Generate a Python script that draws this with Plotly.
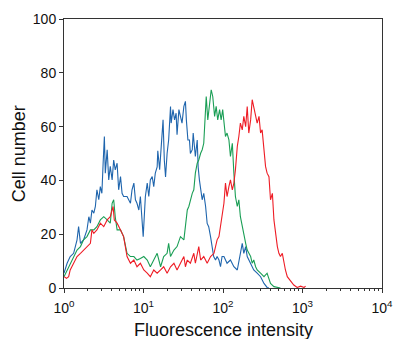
import plotly.graph_objects as go

# Histogram data: log-amplifier channel (256 channels per decade) and cell counts
blue_ch = [0, 10, 20, 31, 42, 47, 53, 63, 74, 80, 85, 90, 96, 101, 106, 112, 117, 122, 126, 130,
           133, 139, 144, 149, 155, 160, 165, 171, 176, 182, 187, 192, 203, 214, 219, 225, 230, 235,
           241, 246, 255,
           262, 268, 273, 278, 284, 289, 294, 300, 302, 308, 316, 319, 323, 327, 332, 337, 343, 345,
           351, 356, 361, 364, 370, 375, 380, 386, 391, 394, 399, 404, 407, 413, 416, 420, 423, 429,
           432, 436, 440, 445, 450, 456, 461, 466, 472, 477, 482, 488, 493, 499, 504, 509,
           515, 525, 536, 547, 558, 568, 574, 579, 585, 590, 601, 611, 622, 633, 644, 654, 660]
blue_n = [5.5, 9.2, 11.7, 12.9, 17.9, 22.8, 16.6, 17.9, 21.6, 26.5, 24.1, 29, 27.8, 30.3, 36.5, 32.8,
          37.7, 35.2, 46.4, 56.3, 42.7, 51.4, 40.2, 45.2, 40.2, 47.6, 43.9, 46.4, 36.5, 41.4, 35.2, 34,
          34, 31.5, 36.5, 39, 32.8, 31.5, 29, 34, 19.1,
          34, 39, 34, 40.2, 41.4, 37.7, 42.7, 45, 51, 44, 60, 62.5, 47.6, 41.3, 50, 55, 67.5, 61.3,
          66.3, 62.5, 65, 57, 66.3, 63.8, 61.3, 67.5, 69.4, 62.5, 55, 55, 50, 51.4, 57.6, 52.6, 48.9,
          55, 45, 40.2, 36.5, 32.8, 35.2, 30.3, 24, 22.8, 19, 15.4, 11.7, 10.4, 11.7, 10.4, 7.9, 11.7,
          11.7, 9.2, 10.4, 7.9, 6.7, 12.9, 16.6, 12.9, 15.4, 11.7, 9.2, 6.7, 5.5, 4.2, 1.7, 0.2, 0]

green_ch = [0, 10, 20, 31, 42, 53, 63, 74, 85, 96, 106, 117, 128, 139, 149, 155, 160, 165, 171, 182,
            192, 203, 214, 225, 235, 246,
            257, 268, 278, 289, 300, 311, 321, 332, 337, 343, 354, 364, 375, 386, 391, 397, 402, 407,
            413, 418, 423, 429, 434, 440, 445, 450, 453, 458, 463, 468, 474, 479, 485, 490, 495, 501,
            506, 511,
            515, 520, 525, 531, 536, 542, 547, 552, 558, 563, 568, 574, 579, 585, 590, 595, 601, 606,
            611, 617, 622, 633, 644, 654, 665, 676, 687, 697]
green_n = [4.2, 6.7, 9.2, 11.7, 14.1, 15.4, 17.9, 19.1, 21.6, 21.6, 22.8, 25.3, 26.5, 25.3, 24.1, 31.5,
           32.8, 26.5, 21.6, 21.6, 19.1, 12.9, 11.7, 11.7, 10.4, 11,
           11.7, 10.4, 7.9, 10.4, 12.9, 7.9, 11.7, 12.9, 16.6, 11.7, 14.1, 15.4, 19.1, 17.9, 22.8, 29,
           30.3, 32.8, 35.2, 36.5, 42.7, 46.4, 47.6, 50.1, 51.4, 53.8, 61.3, 71.2, 62.5, 67.5, 73.7,
           71.2, 63.8, 67.5, 62.5, 66.3, 62.5, 66.3,
           62.5, 56.3, 57.6, 55.1, 48.9, 53.8, 42.7, 34, 30.3, 32.8, 26.5, 22.8, 19.1, 16.6, 14.1,
           12.9, 11.7, 9.2, 10.4, 7.9, 6.7, 5.5, 4.2, 5.5, 1.7, 0.5, 0.2, 0]

red_ch = [0, 8, 15, 20, 31, 42, 53, 63, 74, 85, 90, 96, 106, 117, 128, 139, 149, 158, 162, 171, 182,
          192, 203, 214, 225, 235, 246,
          257, 268, 278, 289, 300, 311, 321, 332, 343, 354, 364, 375, 386, 391, 397, 407, 418, 423,
          429, 434, 440, 450, 461, 472, 483, 488, 493, 499, 504, 509,
          515, 520, 525, 531, 536, 542, 547, 552, 558, 563, 568, 574, 579, 585, 590, 595, 601, 606,
          611, 617, 622, 628, 633, 638, 644, 649, 654, 660, 665, 671, 676, 681, 687, 692, 697, 703,
          708, 713, 719, 730, 740, 751, 762, 773, 778]
red_n = [4.2, 3.6, 4.2, 6.7, 9.2, 11.7, 12.9, 14.1, 15.4, 16.6, 21.6, 20.3, 21.6, 24.1, 22.8, 25.3,
         26.5, 30.3, 25.3, 24.1, 21.6, 19.1, 11.7, 9.2, 10.4, 7.9, 9.2,
         6.7, 5.5, 4.2, 6.7, 5.5, 6.7, 7.9, 5.5, 7.9, 9.2, 6.7, 9.2, 11.7, 7.9, 10.4, 9.2, 12.9, 9.2,
         12.9, 15.4, 10.4, 11.7, 9.2, 11.7, 12.9, 15.4, 17.9, 19.1, 22.8, 27.8,
         31.5, 39, 34, 37.7, 40.2, 36.5, 39, 43.9, 52.6, 56.3, 61.3, 58.8, 63.8, 60, 67.5, 57.6, 62.5,
         70, 67.5, 65, 61.3, 63.8, 57.6, 58.8, 51.4, 45.2, 42.7, 41.4, 32.8, 35.2, 25.3, 20.3, 15.4,
         12.9, 11.7, 12.9, 9.2, 6.7, 4.2, 2.4, 1.1, 0.2, 0.7, 0.2, 0.7]

CHANNELS_PER_DECADE = 256


def to_intensity(channels):
    return [10 ** (c / CHANNELS_PER_DECADE) for c in channels]


series = [
    (blue_ch, blue_n, "#1f65ad"),
    (green_ch, green_n, "#1a9e55"),
    (red_ch, red_n, "#ee1c25"),
]

fig = go.Figure()
for ch, n, color in series:
    fig.add_trace(go.Scatter(
        x=to_intensity(ch), y=n, mode="lines",
        line=dict(color=color, width=1.1),
        showlegend=False, hoverinfo="skip",
    ))

decades = [0, 1, 2, 3, 4]
major_vals = [10 ** d for d in decades]
major_text = [f"10<sup>{d}</sup>" for d in decades]
minor_vals = [m * 10 ** d for d in decades[:-1] for m in range(2, 10)]

axis_color = "#333333"
text_color = "#111111"
font_family = "Liberation Sans, Arial, sans-serif"

fig.update_layout(
    width=393, height=339,
    margin=dict(l=64, r=11, t=19, b=51, autoexpand=False),
    paper_bgcolor="white", plot_bgcolor="white",
    font=dict(family=font_family, color=text_color, size=14),
    xaxis=dict(
        type="log", range=[0, 4], automargin=False,
        tickmode="array", tickvals=major_vals, ticktext=major_text,
        ticks="outside", ticklen=4, tickwidth=1, tickcolor=axis_color,
        minor=dict(tickmode="array", tickvals=minor_vals, ticks="outside",
                   ticklen=2, tickwidth=1, tickcolor=axis_color, showgrid=False),
        showline=True, linecolor=axis_color, linewidth=1, mirror=True,
        showgrid=False, zeroline=False,
        tickfont=dict(size=14), ticklabelstandoff=3, ticklabeloverflow="allow",
    ),
    yaxis=dict(
        range=[0, 100], tickvals=[0, 20, 40, 60, 80, 100], automargin=False,
        ticks="outside", ticklen=4, tickwidth=1, tickcolor=axis_color,
        showline=True, linecolor=axis_color, linewidth=1, mirror=True,
        showgrid=False, zeroline=False,
        tickfont=dict(size=14),
    ),
    annotations=[
        dict(text="Fluorescence intensity", xref="paper", yref="paper",
             x=0.5, y=-0.155, xanchor="center", yanchor="middle",
             showarrow=False, font=dict(size=18)),
        dict(text="Cell number", xref="paper", yref="paper",
             x=-0.142, y=0.5, xanchor="center", yanchor="middle", textangle=-90,
             showarrow=False, font=dict(size=18)),
    ],
)

fig.write_html("out.html")
